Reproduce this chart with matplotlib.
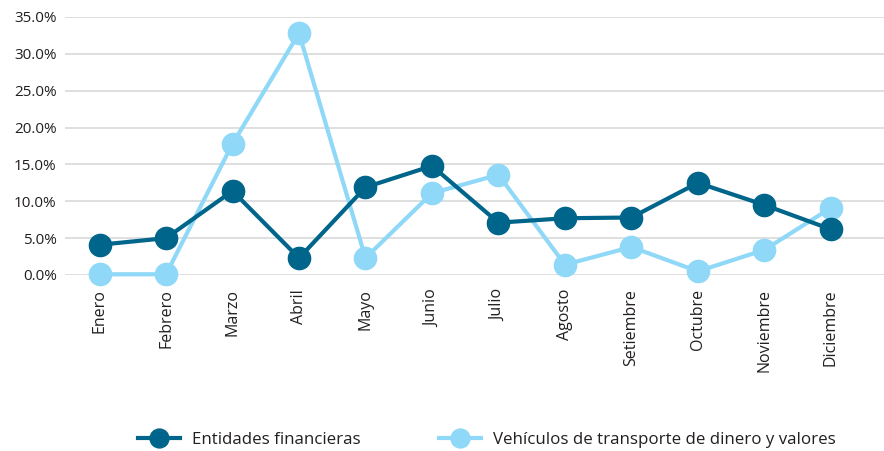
import matplotlib
matplotlib.use("Agg")
import matplotlib.pyplot as plt
from matplotlib.ticker import FuncFormatter

meses = ['Enero', 'Febrero', 'Marzo', 'Abril', 'Mayo', 'Junio', 'Julio',
         'Agosto', 'Setiembre', 'Octubre', 'Noviembre', 'Diciembre']
entidades = [4.1, 5.0, 11.4, 2.3, 11.9, 14.8, 7.1, 7.7, 7.8, 12.5, 9.5, 6.2]
vehiculos = [0.1, 0.1, 17.8, 32.8, 2.3, 11.1, 13.6, 1.4, 3.8, 0.5, 3.4, 9.1]

plt.rcParams['font.family'] = ['Open Sans', 'DejaVu Sans']

fig = plt.figure(figsize=(8.84, 4.51), dpi=100)
ax = fig.add_axes([65/884, 1 - 275/451, 819/884, (275-17)/451])

x = list(range(len(meses)))
ax.plot(x, entidades, color='#00658a', lw=3, marker='o', ms=16, label='Entidades financieras', zorder=3)
ax.plot(x, vehiculos, color='#8fd8f7', lw=3, marker='o', ms=16,
        label='Vehículos de transporte de dinero y valores', zorder=2)

ax.set_ylim(0, 35)
ax.set_xlim(-0.52, 11.8)
ax.set_yticks([0, 5, 10, 15, 20, 25, 30, 35])
ax.yaxis.set_major_formatter(FuncFormatter(lambda v, p: f'{v:.1f}%'))
ax.set_xticks(x)
ax.set_xticklabels(meses, rotation=90)
ax.grid(axis='y', color='#d9d9d9', lw=1.2)
ax.set_axisbelow(True)
for s in ax.spines.values():
    s.set_visible(False)
ax.tick_params(length=0, labelsize=11, colors='#231f20')
ax.tick_params(axis='x', pad=10, labelsize=11.5)
ax.tick_params(axis='y', pad=6)
for l in ax.lines:
    l.set_clip_on(False)

leg = ax.legend(loc='center', bbox_to_anchor=(487/884, 1 - 440/451), bbox_transform=fig.transFigure,
                ncol=2, frameon=False, fontsize=12.2, handlelength=2.5, handletextpad=0.7,
                columnspacing=4.6, labelcolor='#231f20', markerscale=0.85)

fig.savefig('out.png', dpi=100)
